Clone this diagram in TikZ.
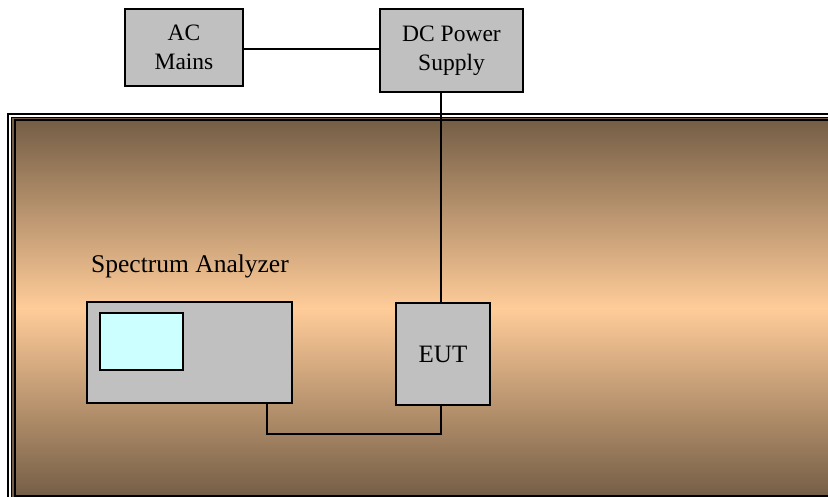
\documentclass[tikz,border=0pt]{standalone}
\usepackage{fontspec}
\setmainfont{Liberation Serif}
\usepackage{tikz}
\usetikzlibrary{calc}
\usetikzlibrary{positioning}
\definecolor{boxgray}{HTML}{C0C0C0}
\definecolor{screencyan}{HTML}{CCFFFF}
\definecolor{peach}{HTML}{FFCC99}
\definecolor{darkbrown}{HTML}{755E46}
\tikzset{
    unit/.style={
           rectangle,
           draw=black, line width=2pt,
           fill=boxgray,
           inner sep=0pt,
           align=center,
           font=\fontsize{23.5}{29}\selectfont,
           },
    screen/.style={
           rectangle,
           draw=black, line width=2pt,
           fill=screencyan,
           inner sep=0pt,
           },
    cable/.style={draw=black, line width=1.5pt},
}
\begin{document}
\begin{tikzpicture}[x=1pt,y=-1pt]
      \useasboundingbox (0,0) rectangle (828,497);
      \begin{scope}
      \clip (0,0) rectangle (828,497);
      % shielded room
      \draw[line width=2pt] (8,114) rectangle (845,510);
      \draw[line width=0.8pt,fill=darkbrown] (11.5,117) rectangle (842,507);
      \shade[top color=darkbrown,bottom color=darkbrown,middle color=peach]
            (15,120.5) rectangle (835,496);
      \draw[line width=2pt] (15,120.5) rectangle (835,496);
      \end{scope}
      \node[unit,minimum width=118pt,minimum height=77pt] (ac) at (184,47.5) {AC\\Mains};
      \node[unit,minimum width=143pt,minimum height=83pt] (dc) at (451.5,50.5) {DC Power\\Supply};
      \node[unit,minimum width=205pt,minimum height=101pt] (sa) at (189.5,352.5) {};
      \node[screen,minimum width=83pt,minimum height=57pt] (scr) at (141.5,341.5) {};
      \node[unit,minimum width=94pt,minimum height=102pt,font=\fontsize{25}{30}\selectfont] (eut) at (443,354) {EUT};
      \node[anchor=base,font=\fontsize{25.5}{30}\selectfont] (salabel) at (190,273) {Spectrum Analyzer};
      \path[cable]
      (ac.east |- 0,49) -- (dc.west |- 0,49)
      ([xshift=-2pt]dc.south -| eut.north) -- ([xshift=-2pt]eut.north);
      \draw[cable] ([xshift=-26pt]sa.south east) -- ++(0,30) -| ([xshift=-2pt]eut.south);
\end{tikzpicture}
\end{document}
